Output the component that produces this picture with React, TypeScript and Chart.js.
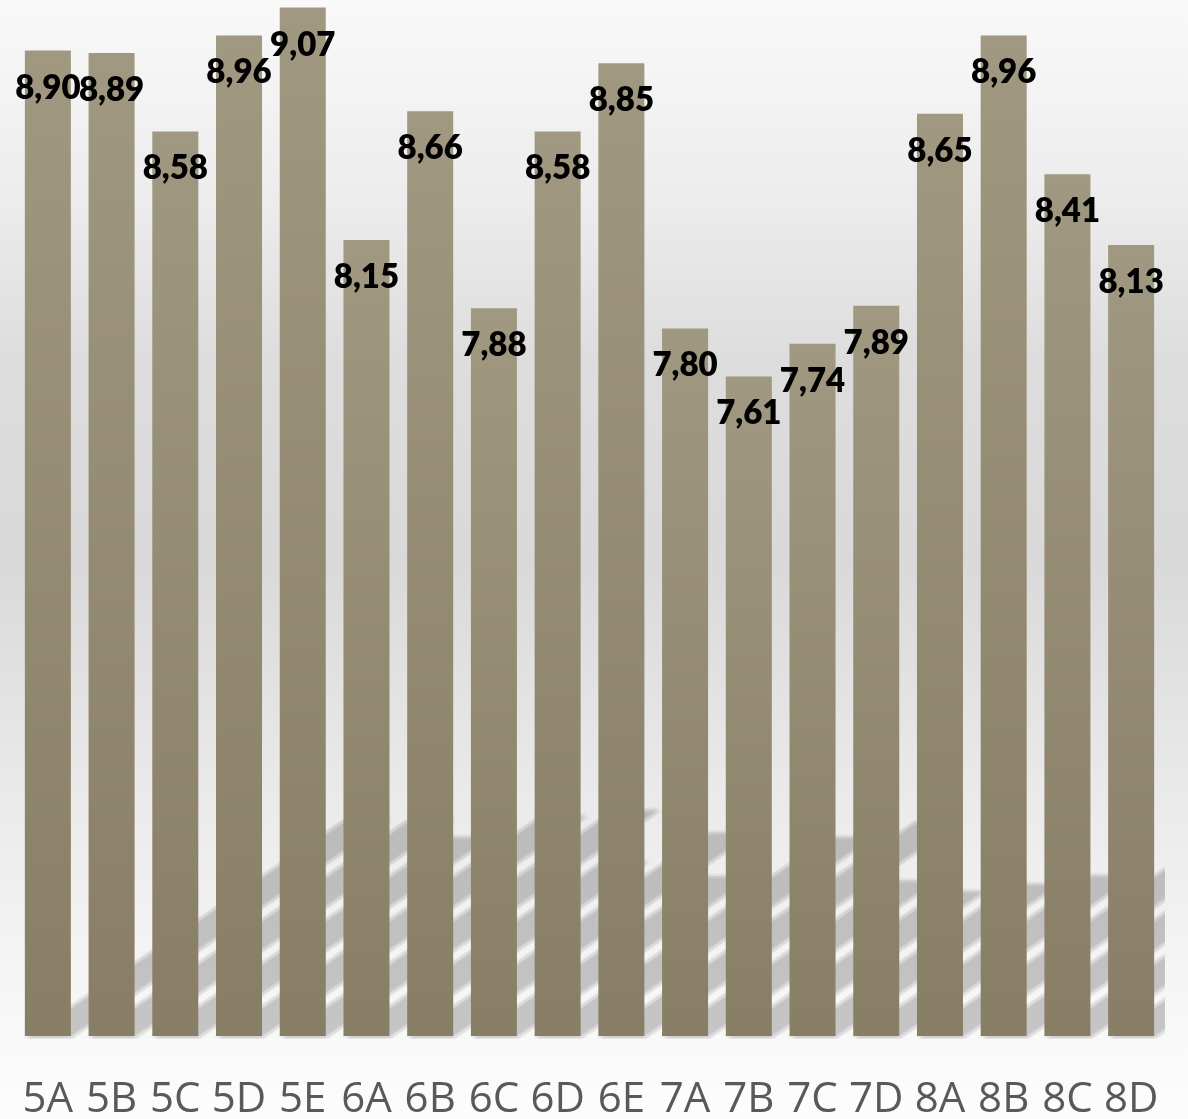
import React, { useEffect, useRef } from 'react';
import { Chart, registerables } from 'chart.js';

Chart.register(...registerables);

const categories = ['5A', '5B', '5C', '5D', '5E', '6A', '6B', '6C', '6D', '6E', '7A', '7B', '7C', '7D', '8A', '8B', '8C', '8D'];
const values = [8.90, 8.89, 8.58, 8.96, 9.07, 8.15, 8.66, 7.88, 8.58, 8.85, 7.80, 7.61, 7.74, 7.89, 8.65, 8.96, 8.41, 8.13];
const axisMin = 5;
const axisMax = 9.1;

const W = 1188;
const H = 1119;

const backgroundPlugin = {
  id: 'bgGradient',
  beforeDraw(chart: any) {
    const { ctx } = chart;
    ctx.save();
    const g = ctx.createLinearGradient(0, 0, 0, H);
    g.addColorStop(0, '#f9f9f9');
    g.addColorStop(0.18, '#ececec');
    g.addColorStop(0.32, '#dddddd');
    g.addColorStop(0.5, '#d9d9d9');
    g.addColorStop(0.7, '#e9e9e9');
    g.addColorStop(0.9, '#f7f7f7');
    g.addColorStop(1, '#fdfdfd');
    ctx.fillStyle = g;
    ctx.fillRect(0, 0, W, H);
    ctx.restore();

    // bar shadows (perspective, upper right)
    const area = chart.chartArea;
    const meta = chart.getDatasetMeta(0);
    const yScale = chart.scales.y;
    ctx.save();
    ctx.beginPath();
    ctx.rect(area.left, area.top, area.right + 2 - area.left, area.bottom + 3 - area.top);
    ctx.clip();
    const base = yScale.getPixelForValue(axisMin);
    const passes = [
      [0, 0], [-2, 0], [2, 0], [0, -2], [0, 2], [-3, -1], [3, 1], [-1, 3], [1, -3],
    ];
    ctx.fillStyle = 'rgba(0,0,0,0.024)';
    meta.data.forEach((el: any, i: number) => {
      const top = yScale.getPixelForValue(values[i]);
      const h = (base - top) * 0.22;
      const dx = h * 1.48;
      const width = el.width;
      const l = el.x - width / 2;
      const r = el.x + width / 2;
      passes.forEach(([ox, oy]) => {
        ctx.beginPath();
        ctx.moveTo(l + ox, base + 2 + oy);
        ctx.lineTo(r + ox, base + 2 + oy);
        ctx.lineTo(r + dx + ox, base - h + oy);
        ctx.lineTo(l + dx + ox, base - h + oy);
        ctx.closePath();
        ctx.fill();
      });
    });
    ctx.restore();
  },
};

const labelPlugin = {
  id: 'valueLabels',
  afterDatasetsDraw(chart: any) {
    const { ctx } = chart;
    const meta = chart.getDatasetMeta(0);
    ctx.save();
    ctx.font = '800 33px Lato';
    ctx.fillStyle = '#000000';
    ctx.textAlign = 'center';
    ctx.textBaseline = 'alphabetic';
    meta.data.forEach((el: any, i: number) => {
      const txt = values[i].toFixed(2).replace('.', ',');
      ctx.fillText(txt, el.x, el.y + 48);
    });
    ctx.restore();
  },
};

export default function App() {
  const ref = useRef<HTMLCanvasElement | null>(null);

  useEffect(() => {
    if (!ref.current) return;
    const chart = new Chart(ref.current, {
      type: 'bar',
      data: {
        labels: categories,
        datasets: [
          {
            data: values,
            backgroundColor: (context: any) => {
              const c = context.chart;
              const area = c.chartArea;
              if (!area) return '#968c75';
              const v = context.raw as number;
              const yTop = c.scales.y.getPixelForValue(v);
              const yBase = c.scales.y.getPixelForValue(axisMin);
              const g = c.ctx.createLinearGradient(0, yTop, 0, yBase);
              g.addColorStop(0, '#a19881');
              g.addColorStop(1, '#887e66');
              return g;
            },
            borderWidth: 0,
            barPercentage: 0.722,
            categoryPercentage: 1,
          },
        ],
      },
      options: {
        responsive: false,
        animation: false,
        devicePixelRatio: 1,
        layout: { padding: { left: 16, right: 25, top: 0, bottom: 0 } },
        plugins: {
          legend: { display: false },
          tooltip: { enabled: false },
        },
        scales: {
          x: {
            grid: { display: false, drawTicks: false },
            border: { display: false },
            ticks: {
              color: '#595959',
              font: { family: 'Open Sans', size: 42 },
              padding: 39,
              maxRotation: 0,
              autoSkip: false,
            },
            afterFit: (scale: any) => {
              scale.height = 83;
              scale.paddingLeft = 0;
              scale.paddingRight = 0;
            },
          },
          y: {
            display: false,
            min: axisMin,
            max: axisMax,
          },
        },
      },
      plugins: [backgroundPlugin, labelPlugin],
    });
    return () => chart.destroy();
  }, []);

  return (
    <div style={{ position: 'absolute', left: 0, top: 0, width: W, height: H }}>
      <canvas ref={ref} width={W} height={H} style={{ display: 'block', width: W, height: H }} />
    </div>
  );
}
